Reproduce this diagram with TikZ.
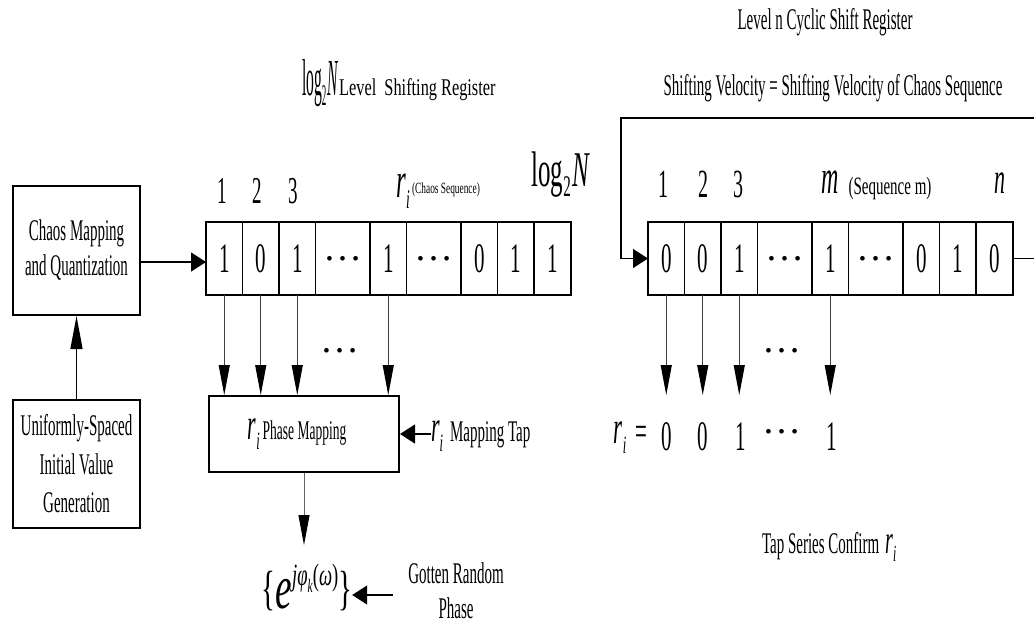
\documentclass[tikz,border=0pt]{standalone}
\usepackage{fontspec}
\usepackage{graphicx}
\setmainfont{Liberation Serif}[FakeStretch=0.5]
\newfontfamily\fB{Liberation Serif}[FakeStretch=0.68]
\newfontfamily\fC{Liberation Serif}[FakeStretch=0.6]
\newfontfamily\fD{Liberation Serif}
\usetikzlibrary{arrows.meta}
\newcommand\fs[1]{\fontsize{#1}{#1}\selectfont}
\newcommand\ri[2]{{\fs{#1}\textit{r}\raisebox{-.22em}{\fs{#2}\textit{i}}}}
\begin{document}
\begin{tikzpicture}[x=1pt,y=-1pt,
  lab/.style={inner sep=0pt, outer sep=0pt},
  box/.style={draw, line width=2pt, inner sep=0pt, align=center},
  pbox/.style={draw, line width=2pt, inner sep=0pt},
  cell/.style={draw, line width=1.2pt, inner sep=0pt, outer sep=0pt, minimum width=36.5pt, minimum height=73pt, anchor=west, font=\fs{42}},
  dcell/.style={cell, minimum width=54.5pt, font=\fD\fs{39}},
  varr/.style={-{Triangle[length=30pt,width=11pt,color=black]}, line width=1pt, black!75},
  harr/.style={-{Triangle[length=15pt,width=19pt]}, line width=1.3pt},
  ]
\useasboundingbox (0,0) rectangle (1034,624);

% titles
\node[lab, font=\fs{30}] (T1) at (825,22) {Level n Cyclic Shift Register};
\node[lab, font=\fs{30}] (T2) at (833,88) {Shifting Velocity = Shifting Velocity of Chaos Sequence};
\node[lab, anchor=base west] (T3) at (302,95) {\scalebox{0.6}[1]{\fs{52}log\raisebox{-.2em}{\fs{30}2}\kern1pt\textit{N}}\kern1pt{\fB\fs{24}Level\ \ Shifting Register}};

% left boxes
\node[box, minimum width=127pt, minimum height=129pt, font=\fontsize{30}{35}\selectfont] (C) at (76.5,250.5) {Chaos Mapping\\and Quantization};
\node[box, minimum width=127pt, minimum height=128pt, font=\fontsize{30}{38.5}\selectfont] (U) at (76.5,464) {Uniformly-Spaced\\Initial Value\\Generation};
\draw[-{Triangle[length=33pt,width=12pt]}, line width=1.3pt] (U.north) -- (C.south);

% left register
\node[cell] (L1) at (206,258.5) {1};
\node[cell] (L2) at (L1.east) {0};
\node[cell] (L3) at (L2.east) {1};
\node[dcell] (L4) at (L3.east) {…};
\node[cell] (L5) at (L4.east) {1};
\node[dcell] (L6) at (L5.east) {…};
\node[cell] (L7) at (L6.east) {0};
\node[cell] (L8) at (L7.east) {1};
\node[cell] (L9) at (L8.east) {1};
\draw[line width=2pt] (L1.north west) rectangle (L9.south east);
\draw[harr] ([yshift=-11.5pt]C.east) -- ([yshift=-11.5pt]C.east -| L1.west);

% left register labels
\node[lab, anchor=base, font=\fs{38}] (n1) at (222,203) {1};
\node[lab, anchor=base, font=\fs{38}] (n2) at (257,203) {2};
\node[lab, anchor=base, font=\fs{38}] (n3) at (293,203) {3};
\node[lab, anchor=base] (riL) at (403,197) {\ri{50}{27}};
\node[lab, anchor=base] (cs) at (446,193) {\fC\fs{15.6}(Chaos Sequence)};
\node[lab, anchor=base, font=\fs{50}] (LN) at (561,186) {log\raisebox{-.2em}{\fs{30}2}\kern2pt\textit{N}};

% phase mapping
\node[pbox, minimum width=190pt, minimum height=76pt, font=\fs{27}] (P) at (304,434) {\ri{44}{25}\kern3pt Phase Mapping\hspace*{14pt}};
\foreach \c in {L1,L2,L3,L5} \draw[varr] (\c.south) -- (\c.south |- P.north);
\node[lab, font=\fD\fs{39}] (LD) at (340,351) {…};
\node[lab, anchor=west, font=\fs{30}] (MT) at (431,436) {\ri{44}{25}\hspace{7pt}Mapping Tap};
\draw[harr] (MT.west |- P.east) -- (P.east);

% output
\node[lab, anchor=base] (E) at (307,604) {\fC\fs{48}\{\raisebox{-4pt}{\fs{62}\textit{e}}\raisebox{19pt}{\fs{31}\textit{jφ}\raisebox{-7pt}{\fs{19}\textit{k}}(\textit{ω})}\}};
\coordinate (Etip) at (304,545);
\draw[varr, black!60] (P.south) -- (P.south |- Etip);
\node[lab, font=\fontsize{30}{35}\selectfont, align=center] (G) at (456,591) {Gotten Random\\Phase};
\coordinate (Gt) at (393,595);
\draw[harr] (Gt) -- (Gt -| E.east);

% right register
\node[cell] (R1) at (648,258.5) {0};
\node[cell] (R2) at (R1.east) {0};
\node[cell] (R3) at (R2.east) {1};
\node[dcell] (R4) at (R3.east) {…};
\node[cell] (R5) at (R4.east) {1};
\node[dcell] (R6) at (R5.east) {…};
\node[cell] (R7) at (R6.east) {0};
\node[cell] (R8) at (R7.east) {1};
\node[cell] (R9) at (R8.east) {0};
\draw[line width=2pt] (R1.north west) rectangle (R9.south east);

% feedback
\coordinate (fbTR) at (1034,118);
\coordinate (fbTL) at (621,118);
\coordinate (fbR) at (1034,258.5);
\draw[harr] (fbTR) -- (fbTL) |- (R1.west);
\draw[line width=1.3pt] (R9.east) -- (fbR);

% right labels
\node[lab, anchor=base, font=\fs{40}] (m1) at (663,197) {1};
\node[lab, anchor=base, font=\fs{40}] (m2) at (703,197) {2};
\node[lab, anchor=base, font=\fs{40}] (m3) at (738,197) {3};
\node[lab, anchor=base, font=\fs{48}] (mm) at (830,193) {\textit{m}};
\node[lab, anchor=base] (sm) at (890,194) {\fC\fs{25}(Sequence m)};
\node[lab, anchor=base, font=\fs{44}] (mn) at (1000,193) {\textit{n}};

% right taps
\coordinate (Rtip) at (700,395);
\foreach \c in {R1,R2,R3,R5} \draw[varr] (\c.south) -- (\c.south |- Rtip);
\node[lab, font=\fD\fs{39}] (RD) at (782,351) {…};

% result row
\node[lab, anchor=base] (rr) at (620,443) {\ri{46}{25}};
\node[lab, font=\fs{42}] (req) at (641,436) {=};
\node[lab, anchor=base, font=\fs{42}] (q1) at (667,450) {0};
\node[lab, anchor=base, font=\fs{42}] (q2) at (703,450) {0};
\node[lab, anchor=base, font=\fs{42}] (q3) at (741,450) {1};
\node[lab, font=\fD\fs{39}] (qd) at (782,432) {…};
\node[lab, anchor=base, font=\fs{42}] (q5) at (832,450) {1};

\node[lab, anchor=base west, font=\fs{30}] (TS) at (762,553) {Tap Series Confirm\hspace{6pt}\ri{40}{23}};
\end{tikzpicture}
\end{document}
